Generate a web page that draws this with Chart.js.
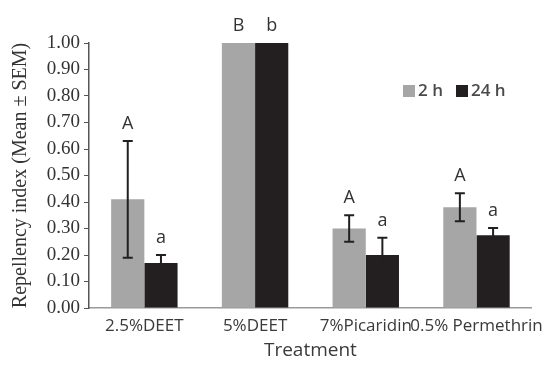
<!DOCTYPE html>
<html>
<head>
<meta charset="utf-8">
<script src="https://cdn.jsdelivr.net/npm/chart.js@4"></script>
<style>
  html, body { margin: 0; padding: 0; background: #fff; }
  #wrap { width: 552px; height: 369px; position: relative; }
</style>
</head>
<body>
<div id="wrap"><canvas id="c" width="552" height="369"></canvas></div>
<script>
// Repellency index per treatment, mean ± SEM, at 2 h and 24 h
const treatments = ['2.5%DEET', '5%DEET', '7%Picaridin', '0.5% Permethrin'];
const mean2h  = [0.41, 1.00, 0.30, 0.38];
const sem2h   = [0.22, 0,    0.05, 0.053];
const mean24h = [0.17, 1.00, 0.20, 0.275];
const sem24h  = [0.03, 0,    0.065, 0.027];
const letters2h  = ['A', 'B', 'A', 'A'];
const letters24h = ['a', 'b', 'a', 'a'];
const yTicks = [0, 0.1, 0.2, 0.3, 0.4, 0.5, 0.6, 0.7, 0.8, 0.9, 1.0];

const GREY = '#a6a6a6';
const DARK = '#231f20';
const sansFont = "'Open Sans', 'DejaVu Sans', sans-serif";
const serifFont = "'Liberation Serif', 'DejaVu Serif', serif";

const seriesExtras = [
  { sem: sem2h, letters: letters2h },
  { sem: sem24h, letters: letters24h }
];

// Error bars and significance letters above each bar
const annotatePlugin = {
  id: 'annotate',
  afterDatasetsDraw(chart) {
    const ctx = chart.ctx;
    const y = chart.scales.y;
    chart.data.datasets.forEach((ds, i) => {
      const meta = chart.getDatasetMeta(i);
      const extra = seriesExtras[i];
      meta.data.forEach((bar, j) => {
        const v = ds.data[j];
        const e = extra.sem[j];
        const x = bar.x;
        ctx.save();
        if (e > 0) {
          const yt = y.getPixelForValue(v + e);
          const yb = y.getPixelForValue(v - e);
          ctx.strokeStyle = DARK;
          ctx.lineWidth = 2;
          ctx.beginPath();
          ctx.moveTo(x, yt); ctx.lineTo(x, yb);
          ctx.moveTo(x - 5, yt); ctx.lineTo(x + 5, yt);
          ctx.moveTo(x - 5, yb); ctx.lineTo(x + 5, yb);
          ctx.stroke();
        }
        const top = y.getPixelForValue(v + e);
        ctx.fillStyle = '#333';
        ctx.font = '18px ' + sansFont;
        ctx.textAlign = 'center';
        ctx.textBaseline = 'alphabetic';
        ctx.fillText(extra.letters[j], x, top - 12);
        ctx.restore();
      });
    });
  }
};

// Legend drawn inside the plot area
const legendPlugin = {
  id: 'insideLegend',
  afterDraw(chart) {
    const ctx = chart.ctx;
    const items = [
      { x: 403, label: chart.data.datasets[0].label, color: GREY },
      { x: 456, label: chart.data.datasets[1].label, color: DARK }
    ];
    ctx.save();
    ctx.font = '600 17px ' + sansFont;
    ctx.textBaseline = 'middle';
    ctx.textAlign = 'left';
    items.forEach(it => {
      ctx.fillStyle = it.color;
      ctx.fillRect(it.x, 85, 12, 12);
      ctx.fillStyle = '#4a4a4a';
      ctx.fillText(it.label, it.x + 15, 91);
    });
    ctx.restore();
  }
};

new Chart(document.getElementById('c'), {
  type: 'bar',
  data: {
    labels: treatments,
    datasets: [
      { label: '2 h', data: mean2h, backgroundColor: GREY },
      { label: '24 h', data: mean24h, backgroundColor: DARK }
    ]
  },
  options: {
    responsive: false,
    animation: false,
    devicePixelRatio: 1,
    layout: { padding: { top: 43, right: 10, left: 9, bottom: 7 }, autoPadding: false },
    plugins: { legend: { display: false }, tooltip: { enabled: false } },
    datasets: { bar: { categoryPercentage: 0.6, barPercentage: 1.0 } },
    scales: {
      x: {
        grid: { display: false, drawTicks: false },
        border: { color: '#9a9a9a', width: 1.5 },
        ticks: {
          autoSkip: false, maxRotation: 0, minRotation: 0, padding: 8,
          color: '#3a3a3a', font: { family: sansFont, size: 17 }
        },
        title: {
          display: true, text: 'Treatment', color: '#3a3a3a',
          font: { family: sansFont, size: 19 }, padding: { top: 0, bottom: 0 }
        },
        afterFit(s) { s.height = 369 - 308 - 7; }
      },
      y: {
        min: 0, max: 1,
        afterBuildTicks(s) { s.ticks = yTicks.map(v => ({ value: v })); },
        grid: { drawOnChartArea: false, drawTicks: true, tickLength: 5, color: '#555' },
        border: { color: '#555', width: 1.5 },
        ticks: {
          padding: 4, color: '#333',
          font: { family: serifFont, size: 19 },
          callback: v => Number(v).toFixed(2)
        },
        title: {
          display: true, text: 'Repellency index (Mean ± SEM)', color: '#333',
          font: { family: serifFont, size: 20 }, padding: { top: 0, bottom: 4 }
        },
        afterFit(s) { s.width = 89 - 9; }
      }
    }
  },
  plugins: [annotatePlugin, legendPlugin]
});
</script>
</body>
</html>
